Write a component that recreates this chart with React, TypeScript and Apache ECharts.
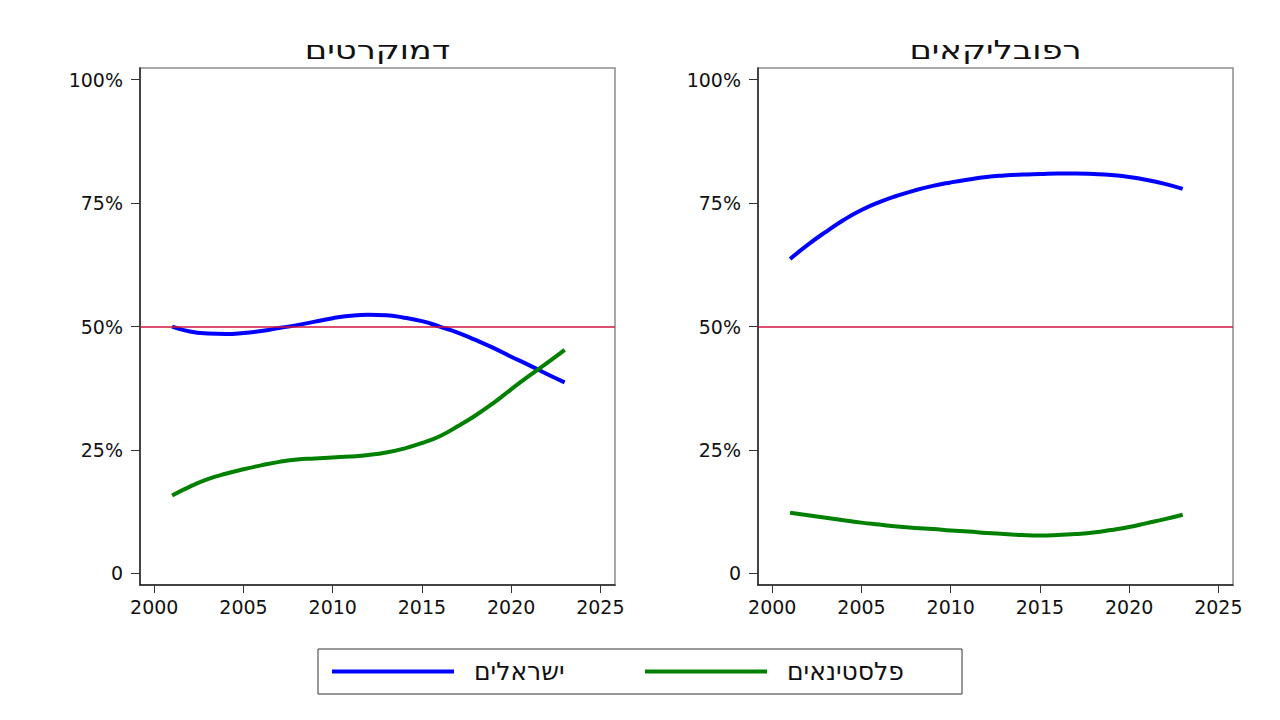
import React, { useEffect, useRef } from "react";
import * as echarts from "echarts";

const years = [2001, 2002, 2003, 2004, 2005, 2006, 2007, 2008, 2009, 2010, 2011, 2012, 2013, 2014, 2015, 2016, 2017, 2018, 2019, 2020, 2021, 2022, 2023];

const demIsraelis = [50.0, 49.0, 48.6, 48.5, 48.7, 49.1, 49.7, 50.3, 51.0, 51.7, 52.2, 52.4, 52.3, 51.8, 51.1, 50.0, 48.8, 47.3, 45.7, 43.9, 42.2, 40.4, 38.7];
const demPalestinians = [15.8, 17.6, 19.1, 20.2, 21.1, 21.9, 22.6, 23.1, 23.3, 23.5, 23.7, 24.0, 24.5, 25.3, 26.4, 27.8, 29.8, 32.0, 34.5, 37.3, 40.0, 42.6, 45.3];
const repIsraelis = [63.7, 66.6, 69.2, 71.6, 73.6, 75.2, 76.5, 77.6, 78.5, 79.2, 79.8, 80.3, 80.6, 80.8, 80.9, 81.0, 81.0, 80.9, 80.7, 80.3, 79.7, 78.9, 77.9];
const repPalestinians = [12.3, 11.8, 11.3, 10.8, 10.3, 9.9, 9.5, 9.2, 9.0, 8.7, 8.5, 8.2, 8.0, 7.8, 7.7, 7.8, 8.0, 8.3, 8.8, 9.4, 10.2, 11.0, 11.9];

const panelTitles = ["דמוקרטים", "רפובליקאים"];
const seriesNames = ["ישראלים", "פלסטינאים"];
const yTicks = [0, 25, 50, 75, 100];
const xTicks = [2000, 2005, 2010, 2015, 2020, 2025];
const referenceLevel = 50;

const FONT = "'DejaVu Sans', 'Liberation Sans', sans-serif";

function pairs(vals: number[]) {
  return years.map((y, i) => [y, vals[i]]);
}

export default function App() {
  const ref = useRef<HTMLDivElement>(null);
  useEffect(() => {
    if (!ref.current) return;
    const chart = echarts.init(ref.current, undefined, { renderer: "svg" });
    const gridLefts = [140, 758];
    const grids = gridLefts.map((l) => ({
      left: l,
      top: 68,
      width: 475,
      height: 517,
      show: true,
      borderColor: "#8c8c8c",
      borderWidth: 1.5,
      backgroundColor: "#fff",
    }));
    const xAxes = gridLefts.map((_, i) => ({
      type: "value",
      gridIndex: i,
      min: 1999.2,
      max: 2025.82,
      axisLine: { show: true, onZero: false, lineStyle: { color: "#222", width: 1.5 } },
      axisTick: { show: true, length: 8, customValues: xTicks, lineStyle: { color: "#333", width: 1 } },
      axisLabel: {
        customValues: xTicks,
        margin: 12,
        fontSize: 19,
        color: "#111",
        fontFamily: FONT,
        formatter: (v: number) => String(v),
      },
      splitLine: { show: false },
    }));
    const yAxes = gridLefts.map((_, i) => ({
      type: "value",
      gridIndex: i,
      min: -2.33,
      max: 102.37,
      axisLine: { show: true, onZero: false, lineStyle: { color: "#222", width: 1.5 } },
      axisTick: { show: true, length: 9, customValues: yTicks, lineStyle: { color: "#333", width: 1 } },
      axisLabel: {
        customValues: yTicks,
        margin: 17,
        fontSize: 19,
        color: "#111",
        fontFamily: FONT,
        formatter: (v: number) => (v === 0 ? "0" : v + "%"),
      },
      splitLine: { show: false },
    }));
    const panels = [
      [demIsraelis, demPalestinians],
      [repIsraelis, repPalestinians],
    ];
    const colors = ["#0000ff", "#008000"];
    const series: any[] = [];
    panels.forEach((vals, p) => {
      series.push({
        type: "line",
        name: "ref" + p,
        xAxisIndex: p,
        yAxisIndex: p,
        data: [],
        silent: true,
        markLine: {
          silent: true,
          symbol: "none",
          label: { show: false },
          lineStyle: { color: "#d2143f", width: 1.5, type: "solid" },
          data: [{ yAxis: referenceLevel }],
        },
      });
      vals.forEach((v, s) => {
        series.push({
          type: "line",
          name: seriesNames[s],
          xAxisIndex: p,
          yAxisIndex: p,
          data: pairs(v),
          smooth: true,
          showSymbol: false,
          color: colors[s],
          lineStyle: { color: colors[s], width: 4 },
        });
      });
    });
    chart.setOption({
      animation: false,
      backgroundColor: "#fff",
      grid: grids,
      xAxis: xAxes,
      yAxis: yAxes,
      series,
      legend: {
        left: 318,
        top: 649,
        orient: "horizontal",
        padding: [10, 20, 10, 14],
        borderColor: "#333",
        borderWidth: 1,
        itemWidth: 122,
        itemHeight: 4,
        itemGap: 54,
        icon: "rect",
        selectedMode: false,
        data: [
          { name: seriesNames[0], textStyle: { width: 117 } },
          { name: seriesNames[1], textStyle: { width: 155 } },
        ],
        textStyle: {
          fontSize: 25,
          fontFamily: FONT,
          color: "#111",
          padding: [0, 0, 0, 15],
          lineHeight: 24,
        },
      },
      graphic: panelTitles.map((t, i) => ({
        type: "text",
        x: gridLefts[i] + 237.5,
        y: 50,
        scaleX: 1.3,
        style: {
          text: t,
          align: "center",
          verticalAlign: "middle",
          fontSize: 26,
          fontFamily: FONT,
          fill: "#111",
        },
      })),
    });
    return () => chart.dispose();
  }, []);
  return (
    <div
      ref={ref}
      style={{ position: "fixed", left: 0, top: 0, width: 1280, height: 720, background: "#fff" }}
    />
  );
}
